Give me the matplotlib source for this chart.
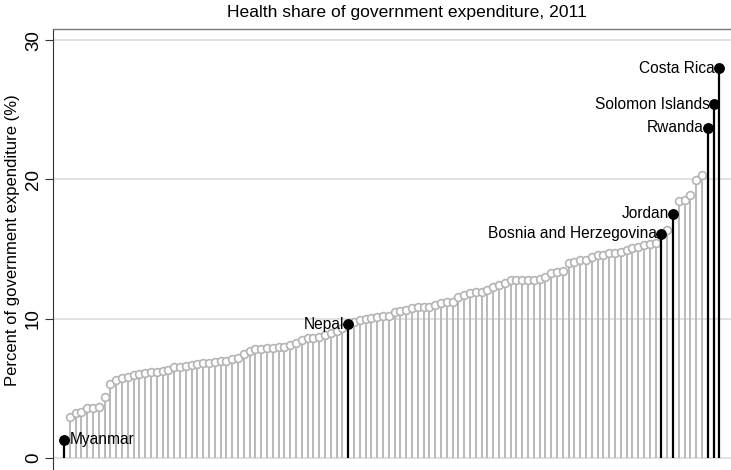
import matplotlib
matplotlib.use("Agg")
import matplotlib.pyplot as plt
import numpy as np

plt.rcParams['font.family'] = ['Liberation Sans', 'DejaVu Sans']

# Sorted health share of government expenditure (%), 2011
values = [
    1.3, 2.95, 3.2, 3.3, 3.6, 3.6, 3.65, 4.35, 5.3, 5.6,
    5.75, 5.85, 5.95, 6.05, 6.1, 6.15, 6.2, 6.25, 6.35, 6.5,
    6.55, 6.6, 6.7, 6.75, 6.8, 6.85, 6.9, 7.0, 7.0, 7.1,
    7.2, 7.5, 7.7, 7.8, 7.85, 7.9, 7.9, 7.95, 8.0, 8.1,
    8.25, 8.5, 8.6, 8.6, 8.7, 8.85, 8.95, 9.15, 9.3, 9.6,
    9.8, 9.9, 10.0, 10.05, 10.1, 10.2, 10.2, 10.45, 10.58, 10.62,
    10.74, 10.86, 10.86, 10.86, 10.98, 11.15, 11.22, 11.22, 11.58, 11.7,
    11.82, 11.94, 11.94, 12.06, 12.3, 12.42, 12.54, 12.78, 12.78, 12.78,
    12.78, 12.78, 12.83, 13.02, 13.26, 13.38, 13.43, 14.0, 14.1, 14.2,
    14.25, 14.45, 14.55, 14.6, 14.7, 14.7, 14.8, 14.95, 15.05, 15.15,
    15.3, 15.35, 15.45, 16.1, 16.4, 17.55, 18.45, 18.5, 18.85, 19.95,
    20.35, 23.7, 25.4, 28.0,
]

# Highlighted countries (position in the sorted list)
highlight_names = ["Myanmar", "Nepal", "Bosnia and Herzegovina", "Jordan",
                   "Rwanda", "Solomon Islands", "Costa Rica"]
highlight_rank = [0, 49, 103, 105, 111, 112, 113]

title = "Health share of government expenditure, 2011"
ylabel = "Percent of government expenditure (%)"
yticks = [0, 10, 20, 30]

W, H = 731, 470
fig = plt.figure(figsize=(W / 100, H / 100), dpi=100)
ax = fig.add_axes([53 / W, 0, (W - 53) / W, (H - 29) / H])

x = np.arange(len(values))
vals = np.array(values, dtype=float)
hi = np.array(highlight_rank)
mask = np.ones(len(vals), bool)
mask[hi] = False

gray = "#b4b4b4"
ax.vlines(x[mask], 0, vals[mask], colors=gray, lw=1.3, zorder=2)
ax.plot(x[mask], vals[mask], 'o', mfc='white', mec=gray, ms=5.6, mew=1.2,
        zorder=3, linestyle='none')
ax.vlines(x[hi], 0, vals[hi], colors='black', lw=1.6, zorder=4)
ax.plot(x[hi], vals[hi], 'o', color='black', ms=6.8, zorder=5, linestyle='none')

for name, r in zip(highlight_names, highlight_rank):
    if name == "Myanmar":
        ax.annotate(name, (r, values[r]), xytext=(4.0, 0), textcoords='offset points',
                    ha='left', va='center', fontsize=11.2, zorder=6)
    else:
        ax.annotate(name, (r, values[r]), xytext=(-3.0, 0), textcoords='offset points',
                    ha='right', va='center', fontsize=11.2, zorder=6)

ax.set_xlim(-1.9, 115.0)
ax.set_ylim(-0.86, 30.8)
ax.set_xticks([])
ax.set_yticks(yticks)
ax.set_yticklabels([str(t) for t in yticks], fontsize=13.5)
for lab in ax.get_yticklabels():
    lab.set_rotation(90)
    lab.set_va('center')
ax.tick_params(axis='y', length=6, width=0.8, pad=2, color='#333333')
for t in yticks:
    ax.axhline(t, color='#dcdcdc', lw=1.2, zorder=1)

ax.spines['left'].set_color('#333333')
ax.spines['left'].set_linewidth(0.8)
ax.spines['top'].set_color('#777777')
ax.spines['top'].set_linewidth(1.0)
ax.spines['right'].set_color('#dddddd')
ax.spines['bottom'].set_visible(False)

fig.text(407 / W, 1 - 13 / H, title, ha='center', va='center', fontsize=12.6)
fig.text(13 / W, 1 - 240 / H, ylabel, ha='center', va='center', rotation=90,
         fontsize=12)

fig.savefig("out.png", dpi=100)
